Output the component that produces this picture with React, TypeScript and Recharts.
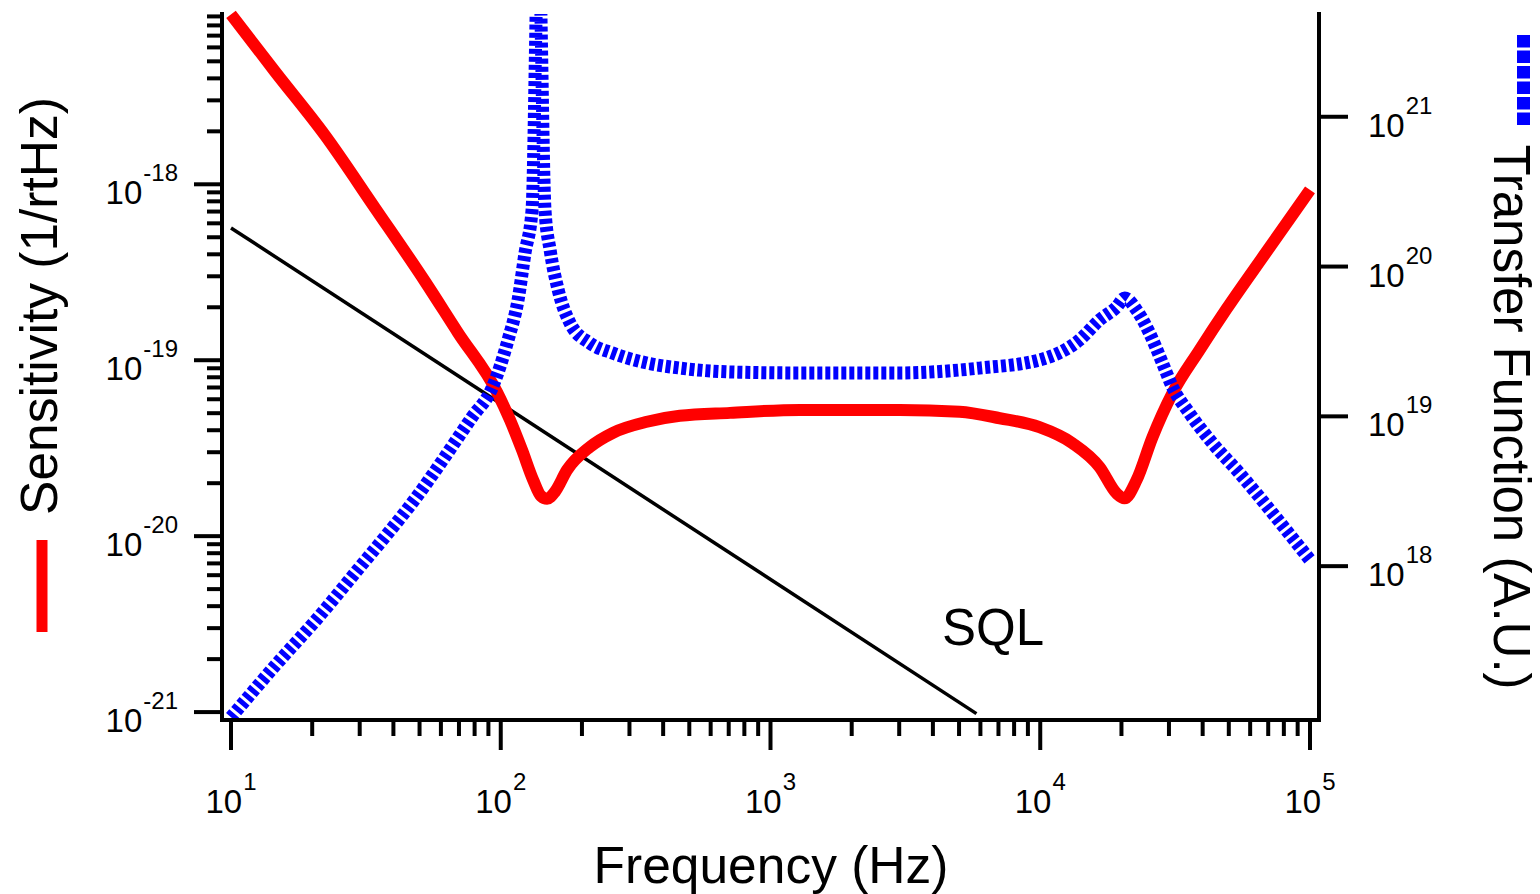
import React from 'react';
import { LineChart, Line, XAxis, YAxis } from 'recharts';

// ---------- data ----------
const sensFreq = [10, 14.6, 22.3, 34.2, 52.5, 69.5, 96.8, 108.2, 119.9, 131.8, 141.0, 148.5, 158.9, 176.2, 214.3, 260.6, 348.3, 461.3, 707.9, 1285, 3013, 5023, 7079, 9931, 13183, 16596, 19187, 20512, 22751, 26062, 30903, 38905, 48978, 68865, 100000];
const sensValue = [9.25e-18, 4.35e-18, 1.9e-18, 7.33e-19, 2.79e-19, 1.43e-19, 6.6e-20, 4.58e-20, 3.09e-20, 2.09e-20, 1.69e-20, 1.63e-20, 1.79e-20, 2.38e-20, 3.22e-20, 3.87e-20, 4.47e-20, 4.83e-20, 5.02e-20, 5.22e-20, 5.22e-20, 5.1e-20, 4.68e-20, 4.16e-20, 3.37e-20, 2.47e-20, 1.75e-20, 1.64e-20, 2.08e-20, 3.65e-20, 6.49e-20, 1.14e-19, 1.95e-19, 4.12e-19, 9.3e-19];

const tfFreq = [10, 15.2, 20.2, 29.4, 48.2, 78.3, 92.9, 106.4, 115.9, 123.0, 130.6, 138.0, 145.9, 152.4, 163.3, 180.7, 214.3, 260.6, 348.3, 461.3, 707.9, 1253, 3013, 5957, 9931, 13964, 16596, 19187, 20560, 22751, 25410, 28379, 30903, 35727, 43451, 54702, 72611, 100000];
const tfValue = [9.8e16, 2.36e17, 4.17e17, 9.4e17, 2.82e18, 9.9e18, 1.55e19, 3.23e19, 5.97e19, 1.23e20, 2.38e20, 1.6e22, 2.38e20, 1.29e20, 6.97e19, 4.19e19, 3.08e19, 2.64e19, 2.27e19, 2.10e19, 1.98e19, 1.95e19, 1.95e19, 2.10e19, 2.38e19, 3.23e19, 4.40e19, 5.37e19, 6.17e19, 5.13e19, 3.60e19, 2.27e19, 1.57e19, 1.05e19, 6.64e18, 4.19e18, 2.26e18, 1.1e18];

const sqlFreq = [10, 5800];
const sqlValue = [5.65e-19, 9.8e-22];

// ---------- axes ----------
const xMajorTicks = [10, 100, 1000, 10000, 100000];
const leftMajorTicks = [1e-21, 1e-20, 1e-19, 1e-18];
const rightMajorTicks = [1e18, 1e19, 1e20, 1e21];
const minorMultipliers = [2, 3, 4, 5, 6, 7, 8, 9];

const xTitle = 'Frequency (Hz)';
const leftTitle = 'Sensitivity (1/rtHz)';
const rightTitle = 'Transfer Function (A.U.)';
const sqlLabel = 'SQL';

const xTicks = xMajorTicks.flatMap((m) => (m < 100000 ? [m, ...minorMultipliers.map((k) => k * m)] : [m]));
const leftTicks = leftMajorTicks.flatMap((m) => [m, ...minorMultipliers.map((k) => k * m)]);

const leftDomain = [Math.pow(10, -21.045), Math.pow(10, -17.032)];
const rightDomain = [Math.pow(10, 16.973), Math.pow(10, 21.686)];

const sensData = sensFreq.map((f, i) => ({ f, v: sensValue[i] }));
const tfData = tfFreq.map((f, i) => ({ f, v: tfValue[i] }));
const sqlData = sqlFreq.map((f, i) => ({ f, v: sqlValue[i] }));

const FONT = '"Liberation Sans", Arial, Helvetica, sans-serif';

const isPow10 = (v: number) => Math.abs(Math.log10(v) - Math.round(Math.log10(v))) < 1e-6;
const expOf = (v: number) => Math.round(Math.log10(v));

const XTick = (props: any) => {
  const { x, y, payload } = props;
  const v = payload.value;
  const major = isPow10(v);
  return (
    <g>
      <line x1={x} y1={y} x2={x} y2={y + (major ? 30 : 16)} stroke="#000" strokeWidth={4} />
      {major && (
        <text x={x} y={y + 93} textAnchor="middle" fontFamily={FONT} fontSize={33} fill="#000">
          10
          <tspan dy={-23} dx={1} fontSize={24}>{expOf(v)}</tspan>
        </text>
      )}
    </g>
  );
};

const LeftTick = (props: any) => {
  const { x, y, payload } = props;
  const v = payload.value;
  const major = isPow10(v);
  return (
    <g>
      <line x1={x} y1={y} x2={x - (major ? 28 : 15)} y2={y} stroke="#000" strokeWidth={4} />
      {major && (
        <text x={x - 44} y={y + 20} textAnchor="end" fontFamily={FONT} fontSize={33} fill="#000">
          10
          <tspan dy={-23} dx={1} fontSize={24}>{expOf(v)}</tspan>
        </text>
      )}
    </g>
  );
};

const RightTick = (props: any) => {
  const { x, y, payload } = props;
  const v = payload.value;
  return (
    <g>
      <line x1={x} y1={y} x2={x + 29} y2={y} stroke="#000" strokeWidth={4} />
      <text x={x + 49} y={y + 20} textAnchor="start" fontFamily={FONT} fontSize={33} fill="#000">
        10
        <tspan dy={-23} dx={1} fontSize={24}>{expOf(v)}</tspan>
      </text>
    </g>
  );
};

export default function App() {
  return (
    <div style={{ position: 'absolute', left: 0, top: 0, width: 1540, height: 894, background: '#fff' }}>
      <LineChart width={1540} height={894} margin={{ top: 14, right: 21, bottom: 24, left: 22 }}>
        <XAxis
          dataKey="f"
          type="number"
          scale="log"
          domain={[10, 100000]}
          padding={{ left: 9, right: 9 }}
          ticks={xTicks}
          interval={0}
          tick={(p: any) => <XTick {...p} />}
          tickLine={false}
          tickSize={0}
          tickMargin={0}
          height={150}
          axisLine={{ stroke: '#000', strokeWidth: 4, strokeLinecap: 'square' }}
        />
        <YAxis
          yAxisId="left"
          orientation="left"
          type="number"
          scale="log"
          domain={leftDomain}
          ticks={leftTicks}
          interval={0}
          tick={(p: any) => <LeftTick {...p} />}
          tickLine={false}
          tickSize={0}
          tickMargin={0}
          width={200}
          axisLine={{ stroke: '#000', strokeWidth: 4, strokeLinecap: 'square' }}
        />
        <YAxis
          yAxisId="right"
          orientation="right"
          type="number"
          scale="log"
          domain={rightDomain}
          allowDataOverflow
          ticks={rightMajorTicks}
          interval={0}
          tick={(p: any) => <RightTick {...p} />}
          tickLine={false}
          tickSize={0}
          tickMargin={0}
          width={200}
          axisLine={{ stroke: '#000', strokeWidth: 4, strokeLinecap: 'square' }}
        />
        <Line
          yAxisId="left"
          data={sqlData}
          dataKey="v"
          type="linear"
          stroke="#000"
          strokeWidth={3.5}
          dot={false}
          activeDot={false}
          isAnimationActive={false}
        />
        <Line
          yAxisId="left"
          data={sensData}
          dataKey="v"
          type="monotone"
          stroke="#ff0000"
          strokeWidth={12}
          dot={false}
          activeDot={false}
          isAnimationActive={false}
        />
        <Line
          yAxisId="right"
          data={tfData}
          dataKey="v"
          type="monotone"
          stroke="#0000ff"
          strokeWidth={13}
          strokeDasharray="5 3"
          dot={false}
          activeDot={false}
          isAnimationActive={false}
        />
      </LineChart>
      <svg
        width={1540}
        height={894}
        style={{ position: 'absolute', left: 0, top: 0, pointerEvents: 'none' }}
      >
        <text x={771} y={883} textAnchor="middle" fontFamily={FONT} fontSize={51.5} fill="#000">
          {xTitle}
        </text>
        <text
          x={57}
          y={306}
          transform="rotate(-90 57 306)"
          textAnchor="middle"
          fontFamily={FONT}
          fontSize={51.5}
          fill="#000"
        >
          {leftTitle}
        </text>
        <text
          x={1494}
          y={417}
          transform="rotate(90 1494 417)"
          textAnchor="middle"
          fontFamily={FONT}
          fontSize={51}
          fill="#000"
        >
          {rightTitle}
        </text>
        <line x1={42} y1={540} x2={42} y2={632} stroke="#ff0000" strokeWidth={11} />
        <line x1={1523.5} y1={35} x2={1523.5} y2={125} stroke="#0000ff" strokeWidth={13} strokeDasharray="12.5 3" />
        <text x={942} y={645} textAnchor="start" fontFamily={FONT} fontSize={51} fill="#000">
          {sqlLabel}
        </text>
      </svg>
    </div>
  );
}
